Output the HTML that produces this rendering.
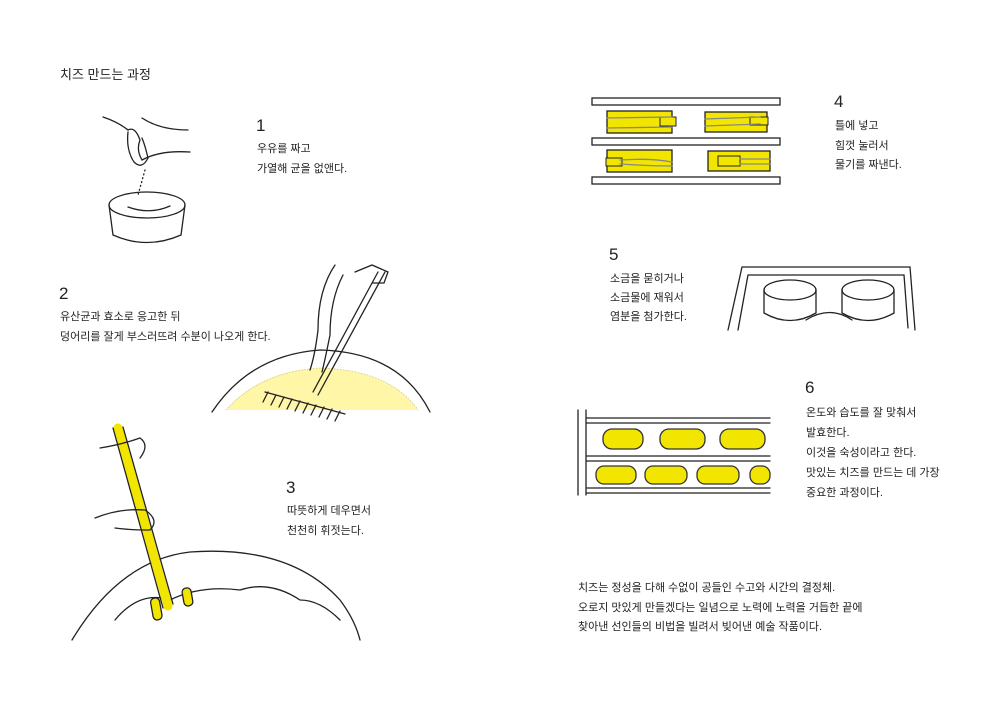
<!DOCTYPE html>
<html><head><meta charset="utf-8"><style>
body{margin:0;background:#fff;}
#c{position:relative;width:1000px;height:710px;overflow:hidden;font-family:"Liberation Sans","Noto Sans CJK KR",sans-serif;color:#222;}
.t{position:absolute;font-size:11px;line-height:20px;white-space:nowrap;}
.n{position:absolute;font-size:17px;font-family:"Liberation Sans",sans-serif;font-weight:300;}
svg{position:absolute;left:0;top:0;}
</style></head><body><div id="c">
<svg width="1000" height="710" fill="none" stroke="#222" stroke-width="1.3" stroke-linecap="round">
<!-- 1 bucket/hand -->
<path d="M103 117 Q118 122 128 130 Q135 126 140 140 Q136 150 142 160 Q160 150 190 152 M142 118 Q160 130 188 130"/>
<path d="M128 132 Q126 150 134 162 Q142 170 148 158 Q145 145 142 138"/>
<path d="M145 170 L138 195" stroke-dasharray="1 3"/>
<ellipse cx="147" cy="205" rx="38" ry="13"/>
<path d="M109 205 L113 235 Q147 250 181 235 L185 205"/>
<path d="M128 207 Q150 215 170 206" />
<!-- 2 rake bowl -->
<path d="M212 412 Q250 355 320 350 Q400 352 430 412"/>
<path d="M226 410 Q260 370 320 368 Q390 370 418 410 Z" fill="#fff6a8" stroke="none"/>
<path d="M226 410 Q260 372 320 368 Q390 370 418 410" stroke-width="0.8" stroke-dasharray="1 2" stroke="#cc9"/>
<path d="M385 272 L318 395 M378 272 L313 392" />
<path d="M265 392 L345 414 M268 392 L263 402 M276 395 L271 405 M284 397 L279 407 M292 399 L287 409 M300 401 L295 411 M308 403 L303 413 M316 405 L311 415 M324 407 L319 417 M332 409 L327 419 M340 411 L335 421"/>
<path d="M335 265 Q318 290 318 330 Q315 355 310 370 M343 275 Q330 300 330 335 Q325 360 322 372 M355 272 L372 265 L388 272 L384 283 L372 283"/>
<!-- 3 stirring -->
<path d="M72 640 Q120 560 190 552 Q290 545 340 600 Q355 620 360 640"/>
<path d="M115 620 Q140 590 170 600 Q200 585 240 590 Q270 580 300 600 Q320 600 340 620"/>
<path d="M118 428 L168 606" stroke="#f2e600" stroke-width="9"/>
<path d="M113 428 L163 608 M123 427 L173 604"/>
<rect x="152" y="598" width="9" height="22" rx="4" fill="#f2e600" transform="rotate(-10 156 610)"/>
<rect x="183" y="588" width="9" height="18" rx="4" fill="#f2e600" transform="rotate(-10 187 597)"/>
<path d="M95 518 Q120 508 145 510 Q160 520 150 530 Q130 530 115 528 M100 448 Q120 445 140 438 Q150 445 140 458"/>
<!-- 4 press -->
<g fill="#fff">
<rect x="592" y="98" width="188" height="7"/><rect x="592" y="138" width="188" height="7"/><rect x="592" y="177" width="188" height="7"/>
</g>
<g fill="#f2e600">
<rect x="607" y="111" width="65" height="22"/><rect x="705" y="112" width="62" height="20"/>
<rect x="607" y="150" width="65" height="22"/><rect x="708" y="151" width="62" height="20"/>
</g>
<g fill="#f2e600" stroke-width="1"><rect x="660" y="117" width="16" height="9"/><rect x="750" y="117" width="18" height="8"/><rect x="606" y="158" width="16" height="8"/><rect x="718" y="156" width="22" height="10"/></g>
<path d="M607 118 L672 117 M607 128 L672 127 M705 119 L760 117 M705 126 L760 124 M620 160 Q650 158 672 162 M620 164 Q650 166 672 166 M740 159 L770 159 M740 164 L770 164" stroke="#888"/>
<!-- 5 salt -->
<path d="M742 267 L910 267 L915 330 M748 275 L904 275 L908 328 M742 267 L728 330 M748 275 L738 330"/>
<ellipse cx="790" cy="290" rx="26" ry="10"/><path d="M764 290 L764 313 Q790 328 816 313 L816 290"/>
<ellipse cx="868" cy="290" rx="26" ry="10"/><path d="M842 290 L842 313 Q868 328 894 313 L894 290"/>
<path d="M806 320 Q830 305 852 320"/>
<!-- 6 shelf -->
<path d="M578 410 L578 495 M586 410 L586 495 M586 418 L770 418 M586 423 L770 423 M586 456 L770 456 M586 461 L770 461 M586 488 L770 488 M586 493 L770 493"/>
<g fill="#f2e600" stroke="#333">
<rect x="603" y="429" width="40" height="20" rx="9"/><rect x="660" y="429" width="45" height="20" rx="9"/><rect x="720" y="429" width="45" height="20" rx="9"/>
<rect x="596" y="466" width="40" height="18" rx="8"/><rect x="645" y="466" width="42" height="18" rx="8"/><rect x="697" y="466" width="42" height="18" rx="8"/><rect x="750" y="466" width="20" height="18" rx="8"/>
</g>
</svg>
<div class="t" style="left:60px;top:65px;font-size:13px;">치즈 만드는 과정</div>
<div class="n" style="left:256px;top:116px;">1</div>
<div class="t" style="left:257px;top:139px;">우유를 짜고<br>가열해 균을 없앤다.</div>
<div class="n" style="left:59px;top:284px;">2</div>
<div class="t" style="left:60px;top:307px;">유산균과 효소로 응고한 뒤<br>덩어리를 잘게 부스러뜨려 수분이 나오게 한다.</div>
<div class="n" style="left:286px;top:478px;">3</div>
<div class="t" style="left:287px;top:501px;">따뜻하게 데우면서<br>천천히 휘젓는다.</div>
<div class="n" style="left:834px;top:92px;">4</div>
<div class="t" style="left:835px;top:117px;line-height:19.5px;">틀에 넣고<br>힘껏 눌러서<br>물기를 짜낸다.</div>
<div class="n" style="left:609px;top:245px;">5</div>
<div class="t" style="left:610px;top:270px;line-height:19px;">소금을 묻히거나<br>소금물에 재워서<br>염분을 첨가한다.</div>
<div class="n" style="left:805px;top:378px;">6</div>
<div class="t" style="left:806px;top:403px;">온도와 습도를 잘 맞춰서<br>발효한다.<br>이것을 숙성이라고 한다.<br>맛있는 치즈를 만드는 데 가장<br>중요한 과정이다.</div>
<div class="t" style="left:578px;top:579px;line-height:19.5px;">치즈는 정성을 다해 수없이 공들인 수고와 시간의 결정체.<br>오로지 맛있게 만들겠다는 일념으로 노력에 노력을 거듭한 끝에<br>찾아낸 선인들의 비법을 빌려서 빚어낸 예술 작품이다.</div>
</div></body></html>
